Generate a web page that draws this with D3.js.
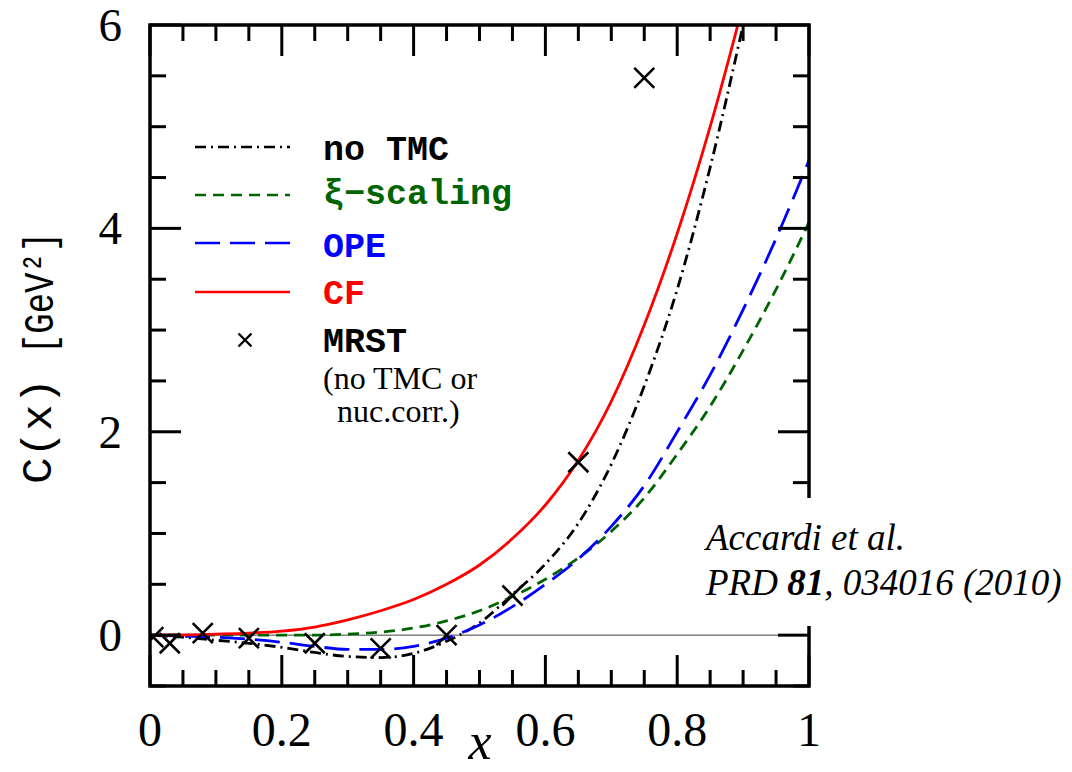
<!DOCTYPE html>
<html>
<head>
<meta charset="utf-8">
<script src="https://cdn.jsdelivr.net/npm/d3@7"></script>
<style>
  body { margin: 0; background: #fff; }
</style>
</head>
<body>
<div id="chart"></div>
<script>
const xGrid = [0, 0.05, 0.1, 0.15, 0.2, 0.25, 0.3, 0.35, 0.4, 0.45, 0.5,
               0.55, 0.6, 0.65, 0.7, 0.75, 0.8, 0.85, 0.9, 0.95, 1.0];
const noTMC   = [0, -0.02, -0.05, -0.08, -0.12, -0.17, -0.21, -0.22, -0.18, -0.06, 0.12,
                 0.40, 0.70, 1.10, 1.68, 2.45, 3.40, 4.60, 6.00, 7.50, 9.1];
const xiScal  = [0, 0.0, 0.0, 0.0, 0.0, 0.0, 0.01, 0.03, 0.07, 0.14, 0.24,
                 0.38, 0.55, 0.76, 1.02, 1.35, 1.78, 2.25, 2.80, 3.40, 4.06];
const ope     = [0, -0.01, -0.02, -0.04, -0.07, -0.11, -0.14, -0.14, -0.11, -0.03, 0.10,
                 0.28, 0.50, 0.75, 1.07, 1.47, 2.00, 2.56, 3.20, 3.90, 4.67];
const cf      = [0, 0.002, 0.01, 0.02, 0.04, 0.08, 0.15, 0.24, 0.35, 0.50, 0.69,
                 0.95, 1.28, 1.72, 2.30, 3.05, 3.95, 5.00, 6.20, 7.50, 8.9];

// MRST points
const mrstX = [0.005, 0.03, 0.08, 0.15, 0.25, 0.35, 0.45, 0.55, 0.65, 0.75];
const mrstY = [-0.02, -0.08, 0.02, -0.03, -0.08, -0.13, 0.0, 0.39, 1.70, 5.48];

const xTicks = [0, 0.2, 0.4, 0.6, 0.8, 1];
const xTickLabels = ['0', '0.2', '0.4', '0.6', '0.8', '1'];
const yTicks = [0, 2, 4, 6];

const series = [
  {name: 'no TMC',    vals: noTMC,  color: '#000000', dash: '11,5,2,5'},
  {name: 'ξ−scaling', vals: xiScal, color: '#006400', dash: '11,7'},
  {name: 'OPE',       vals: ope,    color: '#0000ff', dash: '25,10'},
  {name: 'CF',        vals: cf,     color: '#ff0000', dash: null}
];

const W = 1072, H = 772;
const margin = {left: 150, right: 263, top: 25, bottom: 86};

const svg = d3.select('#chart').append('svg')
  .attr('width', W).attr('height', H);

const x = d3.scaleLinear().domain([0, 1]).range([margin.left, W - margin.right]);
const y = d3.scaleLinear().domain([-0.5, 6]).range([H - margin.bottom, margin.top]);

svg.append('clipPath').attr('id', 'plotclip')
  .append('rect')
  .attr('x', x(0)).attr('y', y(6))
  .attr('width', x(1) - x(0)).attr('height', y(-0.5) - y(6));

// zero line
svg.append('line')
  .attr('x1', x(0)).attr('x2', x(1))
  .attr('y1', y(0)).attr('y2', y(0))
  .attr('stroke', '#444').attr('stroke-width', 1);

// curves
const line = d3.line()
  .x((d, i) => x(xGrid[i]))
  .y(d => y(d))
  .curve(d3.curveMonotoneX);

const curves = svg.append('g').attr('clip-path', 'url(#plotclip)');
series.forEach(s => {
  curves.append('path')
    .attr('d', line(s.vals))
    .attr('fill', 'none')
    .attr('stroke', s.color)
    .attr('stroke-width', 2.8)
    .attr('stroke-dasharray', s.dash);
});

// MRST crosses
const cross = 10;
const pts = svg.append('g').attr('clip-path', 'url(#plotclip)');
mrstX.forEach((xv, i) => {
  const cx = x(xv), cy = y(mrstY[i]);
  pts.append('path')
    .attr('d', `M${cx - cross},${cy - cross}L${cx + cross},${cy + cross}M${cx - cross},${cy + cross}L${cx + cross},${cy - cross}`)
    .attr('stroke', '#000').attr('stroke-width', 2.6).attr('fill', 'none');
});

// axes: ticks inside on all four sides
const axisG = svg.append('g').attr('stroke', '#000').attr('stroke-width', 3);
const xMinor = d3.range(0, 1.0001, 0.05);
xMinor.forEach(v => {
  const major = Math.abs(v / 0.2 - Math.round(v / 0.2)) < 1e-6;
  const len = major ? 31 : 16;
  axisG.append('line').attr('x1', x(v)).attr('x2', x(v))
    .attr('y1', y(-0.5)).attr('y2', y(-0.5) - len);
  axisG.append('line').attr('x1', x(v)).attr('x2', x(v))
    .attr('y1', y(6)).attr('y2', y(6) + len);
});
const yMinor = d3.range(-0.5, 6.0001, 0.5);
yMinor.forEach(v => {
  const major = Math.abs(v / 2 - Math.round(v / 2)) < 1e-6;
  const len = major ? 31 : 16;
  axisG.append('line').attr('y1', y(v)).attr('y2', y(v))
    .attr('x1', x(0)).attr('x2', x(0) + len);
  axisG.append('line').attr('y1', y(v)).attr('y2', y(v))
    .attr('x1', x(1)).attr('x2', x(1) - len);
});
svg.append('rect')
  .attr('x', x(0)).attr('y', y(6))
  .attr('width', x(1) - x(0)).attr('height', y(-0.5) - y(6))
  .attr('fill', 'none').attr('stroke', '#000').attr('stroke-width', 3.5);

// tick labels
const serif = '"Liberation Serif", "Times New Roman", serif';
svg.selectAll('.xlab').data(xTicks).enter().append('text')
  .attr('class', 'xlab')
  .attr('x', d => x(d)).attr('y', 746)
  .attr('text-anchor', 'middle')
  .attr('font-family', serif).attr('font-size', 48)
  .text((d, i) => xTickLabels[i]);
svg.selectAll('.ylab').data(yTicks).enter().append('text')
  .attr('class', 'ylab')
  .attr('x', 122).attr('y', d => y(d) + 16)
  .attr('text-anchor', 'end')
  .attr('font-family', serif).attr('font-size', 47)
  .text(d => d);

// axis titles
svg.append('text')
  .attr('x', 480).attr('y', 759)
  .attr('text-anchor', 'middle')
  .attr('font-family', serif).attr('font-style', 'italic').attr('font-size', 52)
  .text('x');

const mono = '"Liberation Mono", "DejaVu Sans Mono", monospace';
svg.append('text')
  .attr('transform', 'translate(51,484) rotate(-90)')
  .attr('font-family', mono).attr('font-size', 42)
  .attr('textLength', 106).attr('lengthAdjust', 'spacingAndGlyphs')
  .text('C(x)');
svg.append('text')
  .attr('transform', 'translate(53,354) rotate(-90)')
  .attr('font-family', mono).attr('font-size', 42)
  .attr('textLength', 122).attr('lengthAdjust', 'spacingAndGlyphs')
  .text('[GeV²]');

// legend
const legY = [147, 195, 243, 292];
const legText = [160, 204, 257, 304];
series.forEach((s, i) => {
  svg.append('line')
    .attr('x1', 195).attr('x2', 290)
    .attr('y1', legY[i]).attr('y2', legY[i])
    .attr('stroke', s.color).attr('stroke-width', 2.6)
    .attr('stroke-dasharray', s.dash);
  svg.append('text')
    .attr('x', 323).attr('y', legText[i])
    .attr('font-family', mono).attr('font-weight', 'bold').attr('font-size', 35)
    .attr('fill', s.color)
    .text(s.name);
});
const lx = 245, ly = 340, lc = 6.5;
svg.append('path')
  .attr('d', `M${lx - lc},${ly - lc}L${lx + lc},${ly + lc}M${lx - lc},${ly + lc}L${lx + lc},${ly - lc}`)
  .attr('stroke', '#000').attr('stroke-width', 2.4);
svg.append('text')
  .attr('x', 323).attr('y', 352)
  .attr('font-family', mono).attr('font-weight', 'bold').attr('font-size', 35)
  .text('MRST');
svg.append('text')
  .attr('x', 323).attr('y', 389)
  .attr('font-family', serif).attr('font-size', 32)
  .text('(no TMC or');
svg.append('text')
  .attr('x', 337).attr('y', 422)
  .attr('font-family', serif).attr('font-size', 32)
  .text('nuc.corr.)');

// citation on a white box that hides the right frame behind it
svg.append('rect')
  .attr('x', 698).attr('y', 498)
  .attr('width', 370).attr('height', 128)
  .attr('fill', '#fff');
svg.append('text')
  .attr('x', 706).attr('y', 550)
  .attr('font-family', serif).attr('font-style', 'italic').attr('font-size', 37)
  .text('Accardi et al.');
const cite = svg.append('text')
  .attr('x', 706).attr('y', 595)
  .attr('font-family', serif).attr('font-style', 'italic').attr('font-size', 37);
cite.append('tspan').text('PRD ');
cite.append('tspan').attr('font-weight', 'bold').text('81');
cite.append('tspan').text(', 034016 (2010)');
</script>
</body>
</html>
